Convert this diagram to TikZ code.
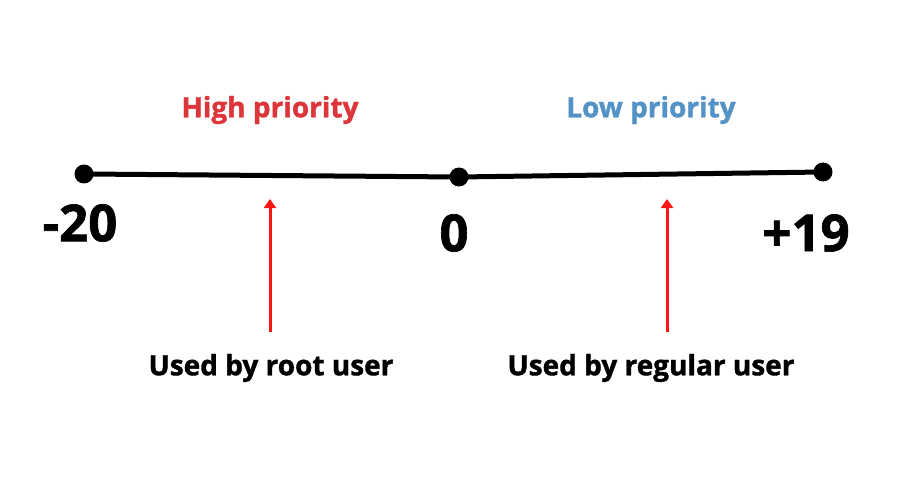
\documentclass[tikz,border=0pt]{standalone}
\usepackage{fontspec}
\setmainfont{Open Sans}[BoldFeatures={FakeBold=1.3}]
\definecolor{highred}{RGB}{221,54,58}
\definecolor{lowblue}{RGB}{83,146,198}
\definecolor{arrowred}{RGB}{255,20,20}
\tikzset{
    dot/.style={fill=black},
    numlabel/.style={font=\fontsize{51}{56}\selectfont\bfseries},
    prio/.style={font=\fontsize{28}{32}\selectfont\bfseries},
    usage/.style={font=\fontsize{28}{32}\selectfont\bfseries},
    pointer/.style={-{Triangle[length=9pt,width=12pt]},line width=3pt,arrowred},
}
\usetikzlibrary{arrows.meta}
\newcommand{\setup}{
    \coordinate (left) at (84,174);
    \coordinate (mid) at (459,177);
    \coordinate (right) at (823,172);

    \coordinate (rootbase) at (270,332);
    \coordinate (roottip) at (270,199);
    \coordinate (regbase) at (667,332);
    \coordinate (regtip) at (667,199);
}

\begin{document}
\begin{tikzpicture}[x=1pt,y=-1pt]
          \useasboundingbox (0,0) rectangle (900,500);
          \setup;

          \draw[line width=5pt] (left) -- (mid) -- (right); % scale line
          \fill[dot] (left) circle (9.5pt);
          \fill[dot] (mid) circle (9.5pt);
          \fill[dot] (right) circle (9.5pt);

          \node[numlabel] (minus) at (80,223) {-20};
          \node[numlabel] (zero) at (454,233) {0};
          \node[numlabel] (plus) at (806,233) {+19};

          \node[prio,highred] (high) at (270,110) {High priority};
          \node[prio,lowblue] (low) at (651,110) {Low priority};

          \draw[pointer] (rootbase) -- (roottip);
          \draw[pointer] (regbase) -- (regtip);

          \node[usage] (rootuser) at (271,368) {Used by root user};
          \node[usage] (reguser) at (651,368) {Used by regular user};
        \end{tikzpicture}
\end{document}
